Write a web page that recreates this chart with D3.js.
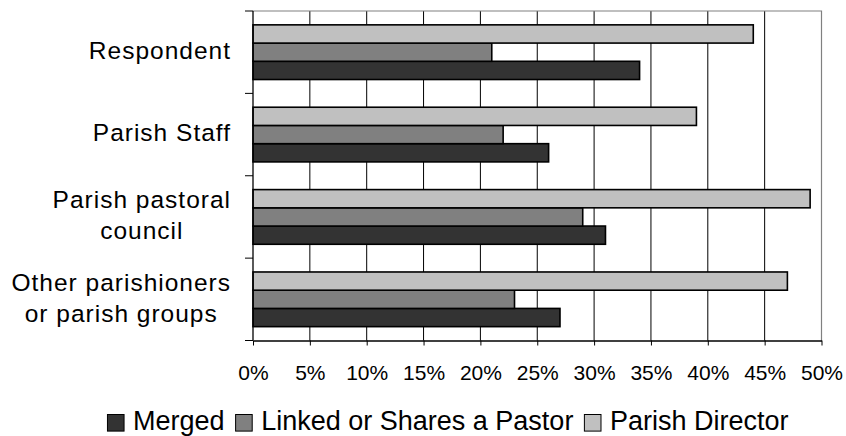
<!DOCTYPE html>
<html>
<head>
<meta charset="utf-8">
<script src="https://cdn.jsdelivr.net/npm/d3@7"></script>
<style>
  html, body { margin: 0; padding: 0; background: #fff; }
  svg { display: block; font-family: "Liberation Sans", Arial, sans-serif; }
</style>
</head>
<body>
<svg id="chart" width="846" height="436"></svg>
<script>
// Who initiated the change, by type of parish restructuring (percent)
const categories = [
  ["Respondent"],
  ["Parish Staff"],
  ["Parish pastoral", "council"],
  ["Other parishioners", "or parish groups"]
];
const seriesNames = ["Merged", "Linked or Shares a Pastor", "Parish Director"];
const merged   = [34, 26, 31, 27];
const linked   = [21, 22, 29, 23];
const director = [44, 39, 49, 47];
const tickValues = [0, 5, 10, 15, 20, 25, 30, 35, 40, 45, 50];
const seriesColors = ["#333333", "#808080", "#c0c0c0"];

const seriesValues = [merged, linked, director];
const catKeys = categories.map(c => c.join(" "));

const svg = d3.select("#chart");
const plot = { left: 253, right: 821.5, top: 11, bottom: 340.5 };

const x = d3.scaleLinear().domain([0, 50]).range([plot.left, plot.right]);
const y0 = d3.scaleBand().domain(catKeys).range([plot.top, plot.bottom]);
// Within each category the series are stacked top-down in reverse order
const y1 = d3.scaleBand()
  .domain(seriesNames.slice().reverse())
  .range([0, y0.bandwidth()])
  .paddingOuter(0.76)
  .paddingInner(0);

// Vertical gridlines
svg.append("g")
  .selectAll("line")
  .data(tickValues.filter(v => v > 0 && v < 50))
  .join("line")
  .attr("x1", d => x(d)).attr("x2", d => x(d))
  .attr("y1", plot.top).attr("y2", plot.bottom)
  .attr("stroke", "#000").attr("stroke-width", 1);

// Plot frame (top and right edges)
svg.append("path")
  .attr("d", `M${plot.left},${plot.top}H${plot.right}V${plot.bottom}`)
  .attr("fill", "none").attr("stroke", "#808080").attr("stroke-width", 1.2);

// Bars
const groups = svg.append("g")
  .selectAll("g")
  .data(catKeys)
  .join("g")
  .attr("transform", d => `translate(0,${y0(d)})`);

groups.selectAll("rect")
  .data((d, i) => seriesNames.map((s, j) => ({ s, v: seriesValues[j][i], c: seriesColors[j] })))
  .join("rect")
  .attr("x", x(0))
  .attr("y", d => y1(d.s))
  .attr("width", d => x(d.v) - x(0))
  .attr("height", y1.bandwidth())
  .attr("fill", d => d.c)
  .attr("stroke", "#000")
  .attr("stroke-width", 1.6);

// Bottom axis
const xAxis = svg.append("g")
  .attr("transform", `translate(0,${plot.bottom})`)
  .call(d3.axisBottom(x).tickValues(tickValues).tickFormat(d => d + "%").tickSize(5).tickSizeOuter(0));
xAxis.select(".domain").attr("stroke", "#000").attr("stroke-width", 1.3);
xAxis.selectAll(".tick line").attr("stroke", "#000");
xAxis.selectAll(".tick text")
  .attr("y", 0).attr("dy", 0)
  .attr("transform", "translate(0,39.5)")
  .attr("font-size", 21).attr("fill", "#000")
  .attr("font-family", "Liberation Sans, Arial, sans-serif");

// Left axis with ticks at category boundaries
const boundaries = catKeys.map(k => y0(k)).concat([plot.bottom]);
const leftAxis = svg.append("g");
leftAxis.append("line")
  .attr("x1", plot.left).attr("x2", plot.left)
  .attr("y1", plot.top).attr("y2", plot.bottom)
  .attr("stroke", "#000").attr("stroke-width", 1.3);
leftAxis.selectAll("line.tick")
  .data(boundaries)
  .join("line")
  .attr("class", "tick")
  .attr("x1", plot.left - 8).attr("x2", plot.left)
  .attr("y1", d => d).attr("y2", d => d)
  .attr("stroke", "#000").attr("stroke-width", 1);

// Category labels: centred lines in a block right-aligned to the axis
const labelRight = 231;
const lineGap = 31;
categories.forEach((lines, i) => {
  const key = catKeys[i];
  const cy = y0(key) + y0.bandwidth() / 2;
  const g = svg.append("g");
  const texts = lines.map((t, j) => g.append("text")
    .text(t)
    .attr("font-size", 24.5)
    .attr("letter-spacing", 1)
    .attr("fill", "#000")
    .attr("text-anchor", "middle")
    .attr("y", cy + 6.8 + (j - (lines.length - 1) / 2) * lineGap));
  const maxW = d3.max(texts, t => t.node().getComputedTextLength());
  texts.forEach(t => t.attr("x", labelRight - maxW / 2));
});

// Legend
const legend = svg.append("g");
const box = 16.6, boxGap = 9, itemGap = 11, legendBaseline = 430, legendCenter = 448;
let cursor = 0;
seriesNames.forEach((name, j) => {
  const g = legend.append("g");
  g.append("rect")
    .attr("x", 0).attr("y", legendBaseline - 15.5).attr("width", box).attr("height", box)
    .attr("fill", seriesColors[j]).attr("stroke", "#000").attr("stroke-width", 1);
  const t = g.append("text")
    .text(name)
    .attr("x", box + boxGap).attr("y", legendBaseline)
    .attr("font-size", 27).attr("fill", "#000");
  const w = box + boxGap + t.node().getComputedTextLength();
  g.attr("transform", `translate(${cursor},0)`);
  cursor += w + itemGap;
});
const total = cursor - itemGap;
legend.attr("transform", `translate(${legendCenter - total / 2},0)`);
</script>
</body>
</html>
